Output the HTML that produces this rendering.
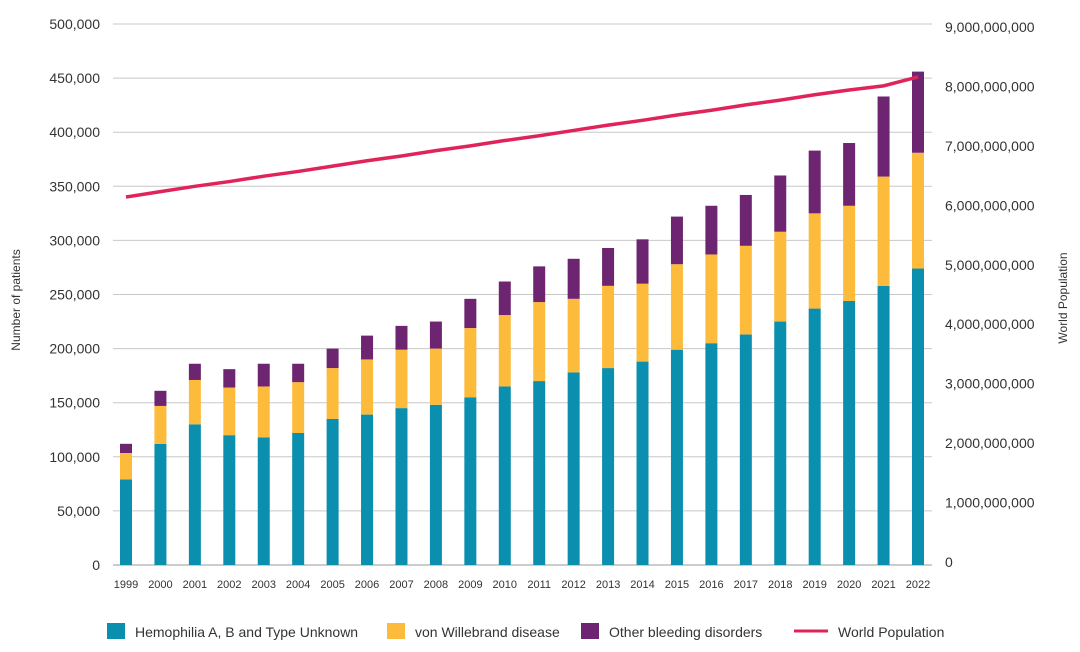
<!DOCTYPE html>
<html><head><meta charset="utf-8"><style>
body{margin:0;background:#fff;font-family:"Liberation Sans",sans-serif;}
svg text{font-family:"Liberation Sans",sans-serif;fill:#333;}
</style></head><body>
<svg id="chart" width="1080" height="647"></svg>
<script>
const years=['1999','2000','2001','2002','2003','2004','2005','2006','2007','2008','2009','2010','2011','2012','2013','2014','2015','2016','2017','2018','2019','2020','2021','2022'];
const hemo=[79000,112000,130000,120000,118000,122000,135000,139000,145000,148000,155000,165000,170000,178000,182000,188000,199000,205000,213000,225000,237000,244000,258000,274000];
const vwd=[24500,35000,41000,44000,47000,47000,47000,51000,54000,52000,64000,66000,73000,68000,76000,72000,79000,82000,82000,83000,88000,88000,101000,107000];
const other=[8500,14000,15000,17000,21000,17000,18000,22000,22000,25000,27000,31000,33000,37000,35000,41000,44000,45000,47000,52000,58000,58000,74000,75000];
const pop=[6.14e9,6.23e9,6.32e9,6.40e9,6.49e9,6.57e9,6.66e9,6.75e9,6.83e9,6.92e9,7.00e9,7.09e9,7.17e9,7.26e9,7.35e9,7.43e9,7.52e9,7.60e9,7.69e9,7.77e9,7.86e9,7.94e9,8.01e9,8.16e9];
const leftTicks=[0,50000,100000,150000,200000,250000,300000,350000,400000,450000,500000];
const rightTicks=[0,1e9,2e9,3e9,4e9,5e9,6e9,7e9,8e9,9e9];
const NS='http://www.w3.org/2000/svg';
const svg=document.getElementById('chart');
const x0=113,x1=932,yB=565,yT=24;
const yL=v=>yB-(v/500000)*(yB-yT);
const yR=v=>562-(v/9e9)*(562-27);
const xC=i=>126+i*(918-126)/(years.length-1);
function el(t,a,txt){const e=document.createElementNS(NS,t);for(const k in a)e.setAttribute(k,a[k]);if(txt!=null)e.textContent=txt;svg.appendChild(e);return e;}
const fmt=v=>v.toLocaleString('en-US');
leftTicks.forEach(v=>{
  const g=el('line',{x1:x0,x2:x1,y1:yL(v),y2:yL(v),stroke:v===0?'#999':'#c8c8c8','stroke-width':1});
  
  
  const t=el('text',{x:100,y:yL(v)+5,'text-anchor':'end','font-size':14},fmt(v));
  
  
});
rightTicks.forEach(v=>{
  const t=el('text',{x:945,y:yR(v)+5,'font-size':14},fmt(v));
  
  
});
years.forEach((y,i)=>{
  const cx=xC(i),w=12;
  let base=0;
  [[hemo,'#0b8fae','bar-hemophilia'],[vwd,'#fdbb3c','bar-vwd'],[other,'#6e2571','bar-other']].forEach(([arr,c,n])=>{
    const r=el('rect',{x:cx-w/2,y:yL(base+arr[i]),width:w,height:yL(base)-yL(base+arr[i]),fill:c});
    
    
    base+=arr[i];
  });
  const t=el('text',{x:cx,y:588,'text-anchor':'middle','font-size':11},y);
  
  
});
const line=el('polyline',{points:pop.map((v,i)=>xC(i)+','+yR(v)).join(' '),fill:'none',stroke:'#e0245a','stroke-width':3.5});


const lt=el('text',{x:20,y:300,'font-size':12,'text-anchor':'middle',transform:'rotate(-90 20 300)'},'Number of patients');


const rt=el('text',{x:1067,y:298,'font-size':12,'text-anchor':'middle',transform:'rotate(-90 1067 298)'},'World Population');


const leg=[['Hemophilia A, B and Type Unknown','#0b8fae',107,'rect'],['von Willebrand disease','#fdbb3c',387,'rect'],['Other bleeding disorders','#6e2571',581,'rect'],['World Population','#e0245a',794,'line']];
leg.forEach(([lab,c,x,k])=>{
  let m;
  if(k==='rect') m=el('rect',{x:x,y:623,width:18,height:16,fill:c});
  else m=el('line',{x1:x,x2:x+34,y1:631,y2:631,stroke:c,'stroke-width':3});
  
  
  const t=el('text',{x:x+(k==='rect'?28:44),y:637,'font-size':14},lab);
  
  
});
</script>
</body></html>
